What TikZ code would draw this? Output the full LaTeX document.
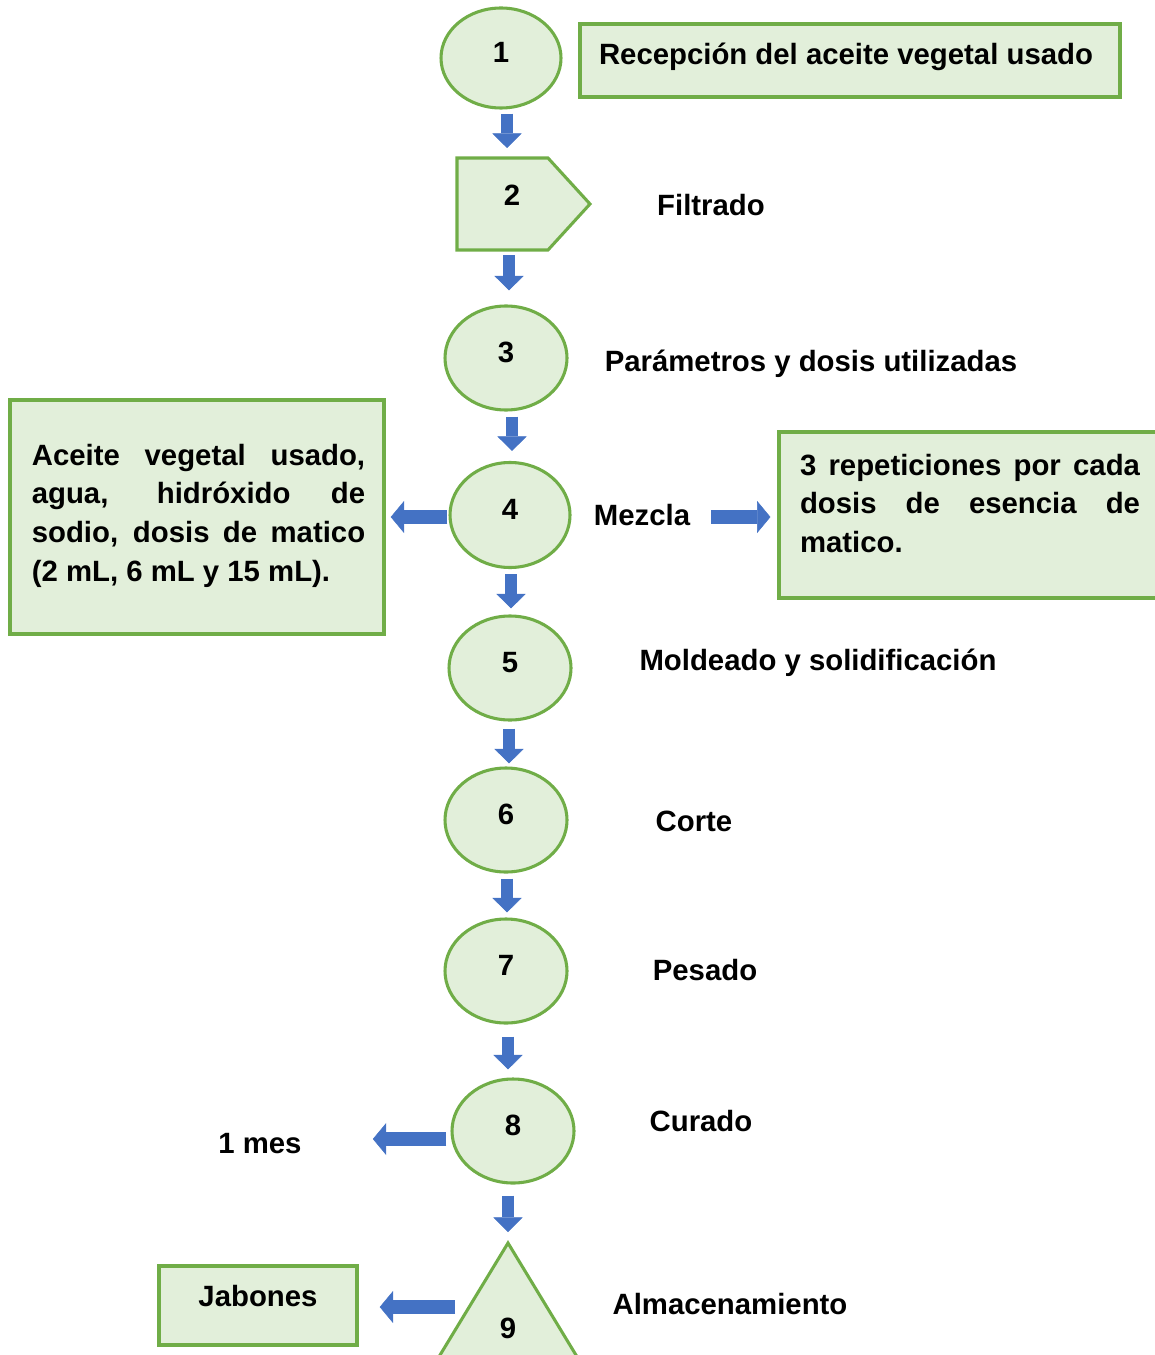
\documentclass[tikz,border=0pt]{standalone}
\usepackage{fontspec}
\setmainfont{Liberation Sans}
\usetikzlibrary{shapes.geometric,arrows.meta,calc}
\definecolor{gfill}{HTML}{E2EFDA}
\definecolor{gline}{HTML}{70AD47}
\definecolor{ablue}{HTML}{4472C4}
\begin{document}
\begin{tikzpicture}[x=0.75pt,y=-0.75pt,
  every node/.style={font=\fontsize{22}{29}\selectfont\bfseries, inner sep=0pt},
  proc/.style={ellipse, draw=gline, fill=gfill, line width=2.3pt, minimum width=91.5pt, minimum height=78pt},
  gbox/.style={draw=gline, fill=gfill, line width=2.6pt},
  barrow/.style={draw=ablue, line width=9pt, -{Triangle[width=22pt,length=11pt,line width=0.4pt]}},
  sarrow/.style={draw=ablue, line width=11pt, -{Triangle[width=24pt,length=10pt,line width=0.4pt]}},
  lbl/.style={yshift=4pt}
]
\useasboundingbox (0,0) rectangle (1155,1355);
\clip (0,0) rectangle (1155,1355);

% step 1
\node[proc, minimum width=90pt, minimum height=75pt, label={[lbl]center:1}] (e1) at (501,58) {};
\node[gbox, minimum width=405pt, minimum height=54.75pt] (b1) at (850,60.5) {};
\node (t1) at (846,57) {Recepción del aceite vegetal usado};

% step 2 (pentagon)
\draw[gbox, line width=2.3pt] (457,158) -- (548,158) -- (590,204) -- (548,250) -- (457,250) -- cycle;
\coordinate (s2n) at (507,158);
\coordinate (s2s) at (509,250);
\node (l2) at (512,195) {2};
\node (t2) at (711,205) {Filtrado};

% step 3
\node[proc, label={[lbl]center:3}] (e3) at (506,358) {};
\node (t3) at (811,364) {Parámetros y dosis utilizadas};

% step 4
\node[proc, minimum width=90pt, minimum height=78.75pt, label={[lbl]center:4}] (e4) at (510,515) {};
\node (t4) at (642,515) {Mezcla};
\node[gbox, minimum width=280.5pt, minimum height=175.5pt] (bl) at (197,517) {};
\node[text width=250pt, align=justify] (tl) at (198.5,515.5)
  {Aceite vegetal usado,\linebreak agua, hidróxido de\linebreak sodio, dosis de matico\linebreak (2~mL, 6~mL y 15~mL).};
\node[gbox, minimum width=293pt, minimum height=124.5pt] (br) at (974.5,515) {};
\node[text width=255pt, align=justify] (tr) at (970,503.5)
  {3 repeticiones por cada\linebreak dosis de esencia de\linebreak matico.};

% step 5
\node[proc, label={[lbl]center:5}] (e5) at (510,668) {};
\node (t5) at (818,663) {Moldeado y solidificación};

% step 6
\node[proc, label={[lbl]center:6}] (e6) at (506,820) {};
\node (t6) at (694,821) {Corte};

% step 7
\node[proc, label={[lbl]center:7}] (e7) at (506,971) {};
\node (t7) at (705,970) {Pesado};

% step 8
\node[proc, label={[lbl]center:8}] (e8) at (513,1131) {};
\node (t8) at (701,1121) {Curado};
\node (m8) at (260,1144) {1 mes};

% step 9 (triangle)
\draw[gbox, line width=2.3pt] (508,1243) -- (579,1360) -- (437,1360) -- cycle;
\coordinate (s9n) at (508,1243);
\node (l9) at (508,1328) {9};
\node (t9) at (730,1304) {Almacenamiento};
\node[gbox, minimum width=148.5pt, minimum height=59.25pt] (bj) at (258,1305.5) {};
\node (tj) at (258,1296) {Jabones};

% down arrows
\draw[barrow] ($(e1.south)+(6,4)$) -- ($(s2n)+(0,-10)$);
\draw[barrow] ($(s2s)+(0,5)$) -- ($(e3.north)+(3,-14)$);
\draw[barrow] ($(e3.south)+(6,5)$) -- ($(e4.north)+(2,-10)$);
\draw[barrow] ($(e4.south)+(1,5)$) -- ($(e5.north)+(1,-6)$);
\draw[barrow] ($(e5.south)+(-1,7)$) -- ($(e6.north)+(3,-3)$);
\draw[barrow] ($(e6.south)+(1,5)$) -- ($(e7.north)+(1,-5)$);
\draw[barrow] ($(e7.south)+(2,12)$) -- ($(e8.north)+(-5,-8)$);
\draw[barrow] ($(e8.south)+(-5,11)$) -- ($(s9n)+(0,-11)$);

% side arrows
\draw[sarrow] ($(e4.west)+(-1,2)$) -- ($(bl.east)+(5,0)$);
\draw[sarrow] ($(t4.east)+(21,2)$) -- ($(br.west)+(-7,2)$);
\draw[sarrow] ($(e8.west)+(-4,8)$) -- ($(m8.east)+(71,-5)$);
\draw[sarrow] (455,1307) -- ($(bj.east)+(21,1.5)$);
\end{tikzpicture}
\end{document}
